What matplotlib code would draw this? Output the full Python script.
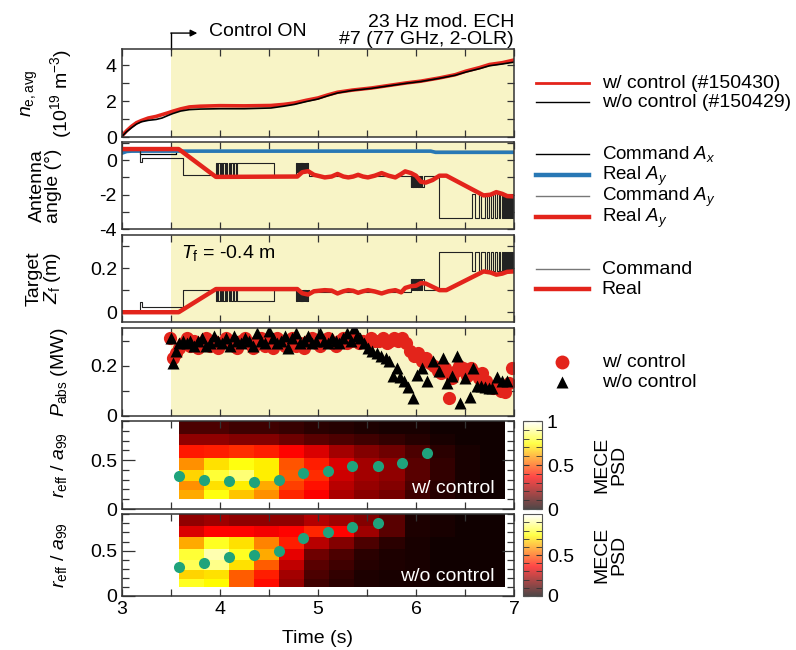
import numpy as np
import matplotlib
matplotlib.use("Agg")
import matplotlib.pyplot as plt
from matplotlib.ticker import MultipleLocator, FormatStrFormatter
from matplotlib.colors import ListedColormap, Normalize
from matplotlib.cm import ScalarMappable
from matplotlib.lines import Line2D
import matplotlib.transforms as mtransforms

plt.rcParams['font.family'] = ['Liberation Sans', 'DejaVu Sans']
plt.rcParams['mathtext.fontset'] = 'custom'
plt.rcParams['mathtext.rm'] = 'Liberation Sans'
plt.rcParams['mathtext.it'] = 'Liberation Sans:italic'
plt.rcParams['mathtext.bf'] = 'Liberation Sans:bold'

# ---------------- data ----------------
# line-averaged density
ne_t = [3.00, 3.05, 3.10, 3.15, 3.20, 3.27, 3.35, 3.41, 3.47, 3.52, 3.60, 3.69, 3.80, 4.00,
        4.25, 4.52, 4.65, 4.76, 4.88, 5.00, 5.10, 5.20, 5.35, 5.55, 5.75, 5.90, 6.05, 6.24,
        6.40, 6.51, 6.65, 6.75, 6.88, 7.00]
ne_ctrl = [0.05, 0.35, 0.60, 0.80, 0.92, 1.06, 1.15, 1.25, 1.35, 1.44, 1.57, 1.68, 1.72, 1.75,
           1.74, 1.76, 1.82, 1.90, 2.05, 2.18, 2.35, 2.50, 2.62, 2.74, 2.90, 3.02, 3.12, 3.30,
           3.48, 3.68, 3.88, 4.05, 4.15, 4.30]
ne_noctrl = [0.03, 0.30, 0.52, 0.72, 0.85, 0.93, 0.98, 1.06, 1.20, 1.31, 1.45, 1.53, 1.56, 1.58,
             1.58, 1.62, 1.72, 1.82, 1.98, 2.12, 2.30, 2.46, 2.60, 2.72, 2.88, 3.00, 3.10, 3.28,
             3.45, 3.63, 3.82, 3.98, 4.08, 4.18]

# antenna angles
ax_real_t = [3.00, 3.05, 3.10, 6.15, 6.20, 7.00]
ax_real_v = [0.40, 0.50, 0.52, 0.52, 0.45, 0.45]
ax_cmd_t = [3.00, 3.19, 3.55, 7.00]
ax_cmd_v = [0.50, 0.33, 0.50, 0.50]

real_t = [3.00, 3.58, 3.96, 4.79, 4.84, 4.90, 4.96, 5.07, 5.14, 5.20, 5.26, 5.31, 5.36, 5.41,
          5.46, 5.51, 5.58, 5.65, 5.72, 5.79, 5.85, 5.89, 5.95, 6.00, 6.05, 6.10, 6.17, 6.24,
          6.31, 6.69, 6.76, 6.82, 6.88, 6.93, 7.00]
ay_real_v = [0.64, 0.64, -0.97, -0.95, -0.70, -0.64, -0.85, -1.00, -0.95, -0.80, -0.95, -1.00,
             -0.95, -0.85, -0.95, -1.00, -0.90, -0.75, -0.90, -1.00, -0.80, -0.65, -0.75, -0.90,
             -1.25, -1.30, -1.15, -0.90, -0.90, -2.04, -2.00, -1.85, -1.95, -2.08, -2.10]
zf_real_v = [0.0, 0.0, 0.105, 0.105, 0.086, 0.080, 0.095, 0.100, 0.098, 0.085, 0.095, 0.100,
             0.097, 0.088, 0.095, 0.100, 0.094, 0.085, 0.095, 0.100, 0.090, 0.110, 0.118, 0.120,
             0.132, 0.130, 0.115, 0.100, 0.100, 0.185, 0.180, 0.170, 0.175, 0.183, 0.185]

# command toggle bursts (switch times)
burst1 = [3.960, 3.972, 3.985, 3.998, 4.010, 4.022, 4.035, 4.050, 4.062, 4.075, 4.090, 4.100,
          4.115, 4.130, 4.145, 4.160, 4.170]
burst2 = [4.780, 4.787, 4.794, 4.800, 4.806, 4.812, 4.818, 4.824, 4.830, 4.836, 4.842, 4.848,
          4.854, 4.860, 4.866, 4.872, 4.878, 4.885, 4.892, 4.900]
burst3 = [5.945, 5.952, 5.960, 5.967, 5.975, 5.982, 5.990, 5.998, 6.006, 6.014, 6.022, 6.030,
          6.040, 6.050, 6.065, 6.080]
burst4 = [6.570, 6.600, 6.640, 6.660, 6.700, 6.720, 6.750, 6.770, 6.790, 6.810, 6.830, 6.845,
          6.860, 6.875, 6.890, 6.900, 6.910, 6.920, 6.930, 6.940, 6.950, 6.960, 6.970, 6.980,
          6.990]

# P_abs
p_ctrl_t = [3.49, 3.52, 3.55, 3.58, 3.62, 3.66, 3.70, 3.74, 3.78, 3.82, 3.86, 3.90, 3.94, 3.98,
            4.02, 4.06, 4.10, 4.14, 4.18, 4.22, 4.26, 4.30, 4.34, 4.38, 4.42, 4.46, 4.50, 4.54,
            4.58, 4.62, 4.66, 4.70, 4.74, 4.78, 4.82, 4.86, 4.90, 4.94, 4.98, 5.02, 5.06, 5.10,
            5.14, 5.18, 5.22, 5.26, 5.30, 5.34, 5.38, 5.42, 5.46, 5.50, 5.54, 5.58, 5.62, 5.66,
            5.70, 5.74, 5.78, 5.82, 5.86, 5.90, 5.94, 5.98, 6.02, 6.06, 6.10, 6.14, 6.18, 6.22,
            6.26, 6.30, 6.34, 6.37, 6.41, 6.44, 6.48, 6.52, 6.56, 6.60, 6.64, 6.67, 6.71, 6.75,
            6.79, 6.83, 6.87, 6.91, 6.95, 6.98]
p_ctrl = [0.31, 0.23, 0.25, 0.27, 0.29, 0.31, 0.28, 0.30, 0.27, 0.29, 0.31, 0.28, 0.30, 0.27,
          0.29, 0.31, 0.30, 0.28, 0.27, 0.30, 0.31, 0.29, 0.27, 0.30, 0.31, 0.28, 0.30, 0.27,
          0.31, 0.29, 0.28, 0.30, 0.31, 0.28, 0.29, 0.27, 0.30, 0.31, 0.29, 0.28, 0.30, 0.31,
          0.29, 0.28, 0.30, 0.31, 0.29, 0.30, 0.31, 0.29, 0.30, 0.29, 0.31, 0.30, 0.30, 0.31,
          0.29, 0.30, 0.31, 0.30, 0.31, 0.29, 0.26, 0.24, 0.25, 0.22, 0.23, 0.21, 0.20, 0.18,
          0.17, 0.19, 0.07, 0.15, 0.18, 0.20, 0.19, 0.16, 0.19, 0.17, 0.15, 0.17, 0.14, 0.12,
          0.11, 0.12, 0.10, 0.095, 0.13, 0.19]
p_noctrl_t = [3.50, 3.52, 3.55, 3.58, 3.62, 3.66, 3.70, 3.74, 3.78, 3.82, 3.86, 3.90, 3.94, 3.98,
              4.02, 4.06, 4.10, 4.14, 4.18, 4.22, 4.26, 4.30, 4.34, 4.38, 4.42, 4.46, 4.50, 4.54,
              4.58, 4.62, 4.66, 4.70, 4.74, 4.78, 4.82, 4.86, 4.90, 4.94, 4.98, 5.02, 5.06, 5.10,
              5.14, 5.18, 5.22, 5.26, 5.30, 5.34, 5.37, 5.40, 5.43, 5.47, 5.51, 5.55, 5.60, 5.64,
              5.69, 5.73, 5.77, 5.81, 5.84, 5.88, 5.92, 5.97, 6.01, 6.06, 6.11, 6.17, 6.23, 6.28,
              6.32, 6.37, 6.42, 6.45, 6.50, 6.55, 6.58, 6.62, 6.66, 6.70, 6.74, 6.78, 6.83, 6.88,
              6.93]
p_noctrl = [0.31, 0.21, 0.26, 0.29, 0.30, 0.29, 0.30, 0.28, 0.30, 0.31, 0.28, 0.29, 0.32, 0.30,
            0.29, 0.31, 0.28, 0.32, 0.30, 0.29, 0.31, 0.30, 0.28, 0.33, 0.30, 0.29, 0.34, 0.31,
            0.29, 0.30, 0.32, 0.27, 0.31, 0.33, 0.29, 0.30, 0.32, 0.29, 0.30, 0.33, 0.30, 0.29,
            0.31, 0.30, 0.29, 0.31, 0.33, 0.30, 0.35, 0.32, 0.31, 0.29, 0.27, 0.26, 0.25, 0.24,
            0.23, 0.22, 0.16, 0.19, 0.155, 0.14, 0.115, 0.07, 0.165, 0.19, 0.14, 0.22, 0.18, 0.23,
            0.13, 0.16, 0.24, 0.05, 0.15, 0.075, 0.19, 0.12, 0.12, 0.115, 0.11, 0.11, 0.155, 0.14,
            0.14]

# MECE PSD maps (rows bottom -> top, 13 time bins)
psd_t0, psd_dt, psd_n = 3.58, 0.256, 13
psd_r_edges = [0.10, 0.19, 0.29, 0.40, 0.52, 0.65, 0.77, 0.92]
psd_ctrl = [
    [0.62, 0.76, 0.66, 0.58, 0.42, 0.36, 0.24, 0.19, 0.16, 0.08, 0.04, 0.02, 0.01],
    [0.58, 0.70, 0.72, 0.62, 0.46, 0.39, 0.26, 0.21, 0.18, 0.10, 0.05, 0.02, 0.01],
    [0.68, 0.80, 0.86, 0.72, 0.50, 0.43, 0.29, 0.23, 0.20, 0.12, 0.06, 0.02, 0.01],
    [0.58, 0.70, 0.76, 0.72, 0.49, 0.41, 0.31, 0.23, 0.20, 0.12, 0.06, 0.02, 0.01],
    [0.40, 0.41, 0.43, 0.41, 0.37, 0.31, 0.23, 0.18, 0.15, 0.10, 0.05, 0.02, 0.01],
    [0.20, 0.20, 0.18, 0.18, 0.15, 0.12, 0.10, 0.08, 0.06, 0.04, 0.02, 0.01, 0.01],
    [0.10, 0.10, 0.08, 0.08, 0.07, 0.05, 0.04, 0.03, 0.02, 0.02, 0.01, 0.01, 0.01],
]
psd_noctrl = [
    [0.78, 0.74, 0.50, 0.38, 0.21, 0.08, 0.05, 0.03, 0.02, 0.02, 0.01, 0.01, 0.01],
    [0.68, 0.70, 0.50, 0.41, 0.23, 0.10, 0.06, 0.03, 0.02, 0.02, 0.01, 0.01, 0.01],
    [0.83, 0.88, 0.70, 0.50, 0.27, 0.12, 0.08, 0.04, 0.03, 0.02, 0.01, 0.01, 0.01],
    [0.80, 0.92, 0.78, 0.62, 0.33, 0.15, 0.10, 0.05, 0.03, 0.02, 0.01, 0.01, 0.01],
    [0.62, 0.78, 0.70, 0.56, 0.41, 0.26, 0.18, 0.10, 0.05, 0.02, 0.01, 0.01, 0.01],
    [0.31, 0.37, 0.37, 0.35, 0.37, 0.42, 0.37, 0.22, 0.12, 0.03, 0.02, 0.01, 0.01],
    [0.20, 0.22, 0.20, 0.20, 0.20, 0.25, 0.22, 0.18, 0.12, 0.03, 0.02, 0.01, 0.01],
]
peak_ctrl_t = [3.58, 3.84, 4.09, 4.35, 4.60, 4.85, 5.10, 5.35, 5.61, 5.86, 6.11]
peak_ctrl_r = [0.34, 0.30, 0.29, 0.28, 0.30, 0.37, 0.39, 0.44, 0.44, 0.475, 0.57]
peak_noctrl_t = [3.58, 3.84, 4.09, 4.35, 4.60, 4.85, 5.10, 5.35, 5.61]
peak_noctrl_r = [0.32, 0.36, 0.43, 0.45, 0.50, 0.64, 0.70, 0.765, 0.80]

# ---------------- styles ----------------
RED = '#e3241b'
BLUE = '#2878b5'
YEL = '#f8f4c6'
TEAL = '#1fa37c'
FS = 14
LFS = 14
plt.rcParams['font.size'] = FS


def alt(times, a, b):
    return [a if i % 2 == 0 else b for i in range(len(times))]


ang_cmd_t = [3.00, 3.19, 3.205, 3.62] + burst1 + [4.55] + burst2 + [4.905] + burst3 + [6.24] + burst4 + [7.0]
ang_cmd_v = ([0.60, -0.12, 0.15, -0.84] + alt(burst1, -0.19, -0.84) + [-0.84] + alt(burst2, -0.19, -0.68)
             + [-0.92] + alt(burst3, -1.56, -0.89) + [-3.36] + alt(burst4, -1.94, -3.36) + [-3.36])
zf_cmd_v = ([0.0, 0.048, 0.025, 0.10] + alt(burst1, 0.05, 0.10) + [0.10] + alt(burst2, 0.05, 0.10)
            + [0.09] + alt(burst3, 0.152, 0.10) + [0.275] + alt(burst4, 0.185, 0.275) + [0.275])

W, H = 796, 650
fig = plt.figure(figsize=(W / 100, H / 100), dpi=100)


def frac(x0, top, x1, bottom):
    return [x0 / W, 1 - bottom / H, (x1 - x0) / W, (bottom - top) / H]


L, R = 121.8, 514.0
ax1 = fig.add_axes(frac(L, 49.3, R, 137.0))
ax2 = fig.add_axes(frac(L, 142.3, R, 229.3))
ax3 = fig.add_axes(frac(L, 235.0, R, 321.7))
ax4 = fig.add_axes(frac(L, 328.3, R, 416.0))
ax5 = fig.add_axes(frac(L, 421.0, R, 509.0))
ax6 = fig.add_axes(frac(L, 514.3, R, 596.0))
cax5 = fig.add_axes(frac(523, 421.0, 542, 509.0))
cax6 = fig.add_axes(frac(523, 514.3, 542, 596.0))

gfmt = FormatStrFormatter('%g')
axes = [ax1, ax2, ax3, ax4, ax5, ax6]
for a in axes:
    a.set_xlim(3, 7)
    a.xaxis.set_major_locator(MultipleLocator(1))
    a.xaxis.set_minor_locator(MultipleLocator(0.5))
    a.yaxis.set_major_formatter(gfmt)
    a.tick_params(which='both', direction='in', top=True, right=True, labelsize=FS,
                  color='#333333', width=0.9)
    a.tick_params(which='major', length=5)
    a.tick_params(which='minor', length=5)
    for s in a.spines.values():
        s.set_color('#333333')
        s.set_linewidth(1.1)
    if a is not ax6:
        a.tick_params(labelbottom=False)
for a in [ax1, ax2, ax3, ax4]:
    a.axvspan(3.5, 7.0, color=YEL, zorder=0, lw=0)

# panel 1
ax1.plot(ne_t, ne_ctrl, color=RED, lw=2.6)
ax1.plot(ne_t, ne_noctrl, color='black', lw=1.2)
ax1.set_ylim(0, 4.9)
ax1.yaxis.set_major_locator(MultipleLocator(2))
ax1.yaxis.set_minor_locator(MultipleLocator(1))

# panel 2
ax2.step(ax_cmd_t, ax_cmd_v, where='post', color='black', lw=0.9)
ax2.plot(ax_real_t, ax_real_v, color=BLUE, lw=2.6)
ax2.step(ang_cmd_t, ang_cmd_v, where='post', color='#222222', lw=0.8)
ax2.plot(real_t, ay_real_v, color=RED, lw=3.2)
ax2.set_ylim(-4, 1.03)
ax2.yaxis.set_major_locator(MultipleLocator(2))
ax2.yaxis.set_minor_locator(MultipleLocator(1))

# panel 3
ax3.step(ang_cmd_t, zf_cmd_v, where='post', color='#222222', lw=0.8)
ax3.plot(real_t, zf_real_v, color=RED, lw=3.2)
ax3.set_ylim(-0.043, 0.35)
ax3.yaxis.set_major_locator(MultipleLocator(0.2))
ax3.yaxis.set_minor_locator(MultipleLocator(0.1))
ax3.text(3.6, 0.27, '$T_\\mathrm{f}$ = -0.4 m', fontsize=FS, va='center', ha='left')

# panel 4
ax4.plot(p_ctrl_t, p_ctrl, 'o', color=RED, ms=9.5, mec='none')
ax4.plot(p_noctrl_t, p_noctrl, '^', color='black', ms=8.5, mec='none')
ax4.set_ylim(0, 0.35)
ax4.yaxis.set_major_locator(MultipleLocator(0.2))
ax4.yaxis.set_minor_locator(MultipleLocator(0.1))

# heat maps
t_edges = psd_t0 + psd_dt * np.arange(psd_n + 1)
hot = plt.get_cmap('hot')
faded = ListedColormap(0.72 * hot(np.linspace(0, 1, 256)) + 0.28 * np.ones((256, 4)))
for a, cax, data, pt, pr, txt, cticks in [
        (ax5, cax5, psd_ctrl, peak_ctrl_t, peak_ctrl_r, 'w/ control', [0, 0.5, 1]),
        (ax6, cax6, psd_noctrl, peak_noctrl_t, peak_noctrl_r, 'w/o control', [0, 0.5])]:
    a.pcolormesh(t_edges, psd_r_edges, np.array(data), cmap='hot', vmin=0, vmax=1, zorder=0,
                 antialiased=False, edgecolors='none', linewidth=0)
    a.plot(pt, pr, 'o', color=TEAL, ms=8, mec='none', zorder=3)
    a.set_ylim(0, 0.9)
    a.yaxis.set_major_locator(MultipleLocator(0.5))
    a.yaxis.set_minor_locator(MultipleLocator(0.1))
    a.tick_params(which='major', axis='y', length=9)
    a.text(6.8, 0.21, txt, color='white', ha='right', va='center', fontsize=FS)
    a.text(-0.16, 0.5, '$r_\\mathrm{eff}$ / $a_{99}$', rotation=90, transform=a.transAxes,
           ha='center', va='center', fontsize=FS)
    cb = fig.colorbar(ScalarMappable(Normalize(0, 1), faded), cax=cax)
    cb.outline.set_edgecolor('#555555')
    cb.set_ticks(cticks)
    cax.yaxis.set_major_formatter(gfmt)
    cax.yaxis.set_minor_locator(MultipleLocator(0.1))
    cax.tick_params(which='both', direction='in', left=True, right=True, color='#333333',
                    labelsize=FS, length=4)
    cax.text(4.6, 0.5, 'MECE\nPSD', rotation=90, ha='center', va='center',
             transform=cax.transAxes, fontsize=FS, linespacing=0.95)

ax6.set_xlabel('Time (s)', fontsize=FS, labelpad=9)

# y labels
ax1.text(-0.234, 0.5, '$n_\\mathrm{e,avg}$', rotation=90, transform=ax1.transAxes,
         ha='center', va='center', fontsize=FS)
ax1.text(-0.155, 0.5, '(10$^{19}$ m$^{-3}$)', rotation=90, transform=ax1.transAxes,
         ha='center', va='center', fontsize=FS)
ax2.text(-0.195, 0.5, 'Antenna\nangle (°)', rotation=90, transform=ax2.transAxes,
         ha='center', va='center', fontsize=FS, linespacing=0.95)
ax3.text(-0.198, 0.5, 'Target\n$Z_\\mathrm{f}$ (m)', rotation=90, transform=ax3.transAxes,
         ha='center', va='center', fontsize=FS, linespacing=0.95)
ax4.text(-0.16, 0.5, '$P_\\mathrm{abs}$ (MW)', rotation=90, transform=ax4.transAxes,
         ha='center', va='center', fontsize=FS)

# annotations on top
ax1.text(1.0, 1.01, '23 Hz mod. ECH\n#7 (77 GHz, 2-OLR)', transform=ax1.transAxes,
         ha='right', va='bottom', fontsize=FS, linespacing=1.0)
blend = mtransforms.blended_transform_factory(ax1.transData, ax1.transAxes)
ax1.plot([3.5, 3.5], [1.0, 1.185], color='black', lw=1.0, transform=blend, clip_on=False)
ax1.annotate('', xy=(3.77, 1.185), xytext=(3.5, 1.185), xycoords=blend, textcoords=blend,
             arrowprops=dict(arrowstyle='-|>', color='black', lw=1.0, mutation_scale=10,
                             shrinkA=0, shrinkB=0))
ax1.text(3.89, 1.2, 'Control ON', transform=blend, ha='left', va='center', fontsize=FS)


# legends (drawn in figure pixel positions)
def leg_line(y, label, fs=LFS, **kw):
    fig.add_artist(Line2D([536 / W, 589 / W], [1 - y / H] * 2, transform=fig.transFigure, **kw))
    fig.text(601.6 / W, 1 - (y + 5.0) / H, label, va='baseline', ha='left', fontsize=fs)


def leg_mark(y, label, **kw):
    fig.add_artist(Line2D([562 / W], [1 - y / H], transform=fig.transFigure, ls='none', **kw))
    fig.text(601.6 / W, 1 - (y + 5.0) / H, label, va='baseline', ha='left', fontsize=LFS)


leg_line(82.7, 'w/ control (#150430)', color=RED, lw=2.0)
leg_line(102.0, 'w/o control (#150429)', color='black', lw=1.0)
leg_line(154.0, 'Command $A_x$', fs=13.5, color='black', lw=1.0)
leg_line(175.0, 'Real $A_y$', fs=13.5, color=BLUE, lw=3.2)
leg_line(196.0, 'Command $A_y$', fs=13.5, color='#777777', lw=1.0)
leg_line(217.0, 'Real $A_y$', fs=13.5, color=RED, lw=3.2)
leg_line(269.3, 'Command', color='#777777', lw=1.0)
leg_line(288.7, 'Real', color=RED, lw=3.2)
leg_mark(361.7, 'w/ control', marker='o', color=RED, ms=10, mec='none')
leg_mark(381.7, 'w/o control', marker='^', color='black', ms=8, mec='none')

fig.savefig('out.png', dpi=100)
